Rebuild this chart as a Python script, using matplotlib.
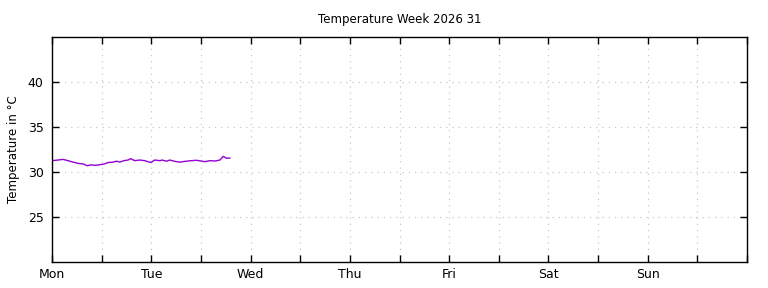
import matplotlib
matplotlib.use("Agg")
import matplotlib.pyplot as plt
from matplotlib.ticker import MultipleLocator

# Data: hours since Monday 00:00, temperature in °C
hours = [0.0, 1.45, 2.66, 3.87, 5.08, 6.29, 7.5, 8.5, 9.5, 10.3, 11.5, 12.7,
         13.5, 14.8, 15.6, 16.4, 17.4, 18.4, 19.0, 20.0, 21.2, 22.4, 23.9,
         24.8, 26.1, 26.6, 27.7, 28.5, 29.7, 30.9, 32.1, 33.7, 34.9, 36.1,
         36.9, 38.2, 39.4, 40.6, 41.4, 42.2, 43.0]
temps = [31.26, 31.33, 31.40, 31.26, 31.10, 30.96, 30.90, 30.70, 30.80, 30.74,
         30.80, 30.90, 31.05, 31.10, 31.20, 31.10, 31.26, 31.33, 31.48, 31.26,
         31.33, 31.26, 31.05, 31.33, 31.26, 31.33, 31.20, 31.33, 31.18, 31.10,
         31.18, 31.26, 31.30, 31.22, 31.15, 31.26, 31.22, 31.33, 31.74, 31.52,
         31.55]
day_labels = ["Mon", "Tue", "Wed", "Thu", "Fri", "Sat", "Sun"]
y_ticks = [25, 30, 35, 40]
title = "Temperature Week 2026 31"
ylabel = "Temperature in °C"

plt.rcParams['font.family'] = ['DejaVu Sans']
fig = plt.figure(figsize=(7.68, 2.88), dpi=100)
ax = fig.add_axes([52/768, 1-262/288, (747-52)/768, (262-37)/288])

days = [h / 24.0 for h in hours]
ax.plot(days, temps, color="#9400d3", linewidth=1.0)

ax.set_xlim(0, 7)
ax.set_ylim(20, 45)
ax.set_xticks(range(len(day_labels)))
ax.set_xticklabels(day_labels)
ax.xaxis.set_minor_locator(MultipleLocator(0.5))
ax.set_yticks(y_ticks)

gstyle = dict(color="#c8c8c8", linestyle=(0, (1, 4)), linewidth=0.9)
ax.grid(True, which="both", axis="x", **gstyle)
ax.grid(True, which="major", axis="y", **gstyle)

ax.tick_params(which="both", direction="in", top=True, right=True, length=5,
               width=1, labelsize=9, colors="black")
ax.tick_params(axis="x", which="both", pad=4)
ax.tick_params(axis="y", which="both", pad=6)
ax.tick_params(axis="x", which="minor", labelbottom=False)
for s in ax.spines.values():
    s.set_linewidth(1.0)
    s.set_color("black")

ax.set_title(title, fontsize=8.5, pad=10)
ax.set_ylabel(ylabel, fontsize=8.5, va="center", ha="center")
ax.yaxis.set_label_coords((14 - 52) / 695, 0.5)

fig.savefig("out.png", dpi=100)
